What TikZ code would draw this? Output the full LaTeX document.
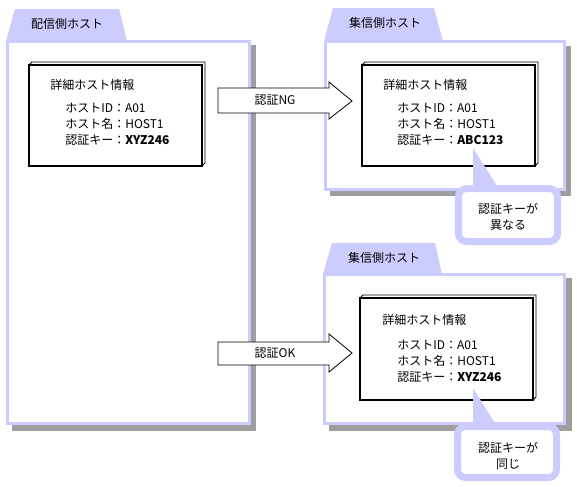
\documentclass[tikz,border=0pt]{standalone}
\usepackage{fontspec}
\setmainfont{Noto Sans CJK JP}
\usepackage{tikz}

\definecolor{hostlav}{RGB}{204,204,255}
\definecolor{shadowgray}{RGB}{158,158,158}

\tikzset{
  hostshadow/.style={fill=shadowgray},
  hosttab/.style={fill=hostlav},
  hostframe/.style={draw=hostlav, line width=2.25pt, fill=white},
  infoside/.style={draw=black, line width=0.6pt, fill=white},
  infoface/.style={draw=black, line width=1.5pt, fill=white},
  blockarrow/.style={draw=black, line width=0.6pt, fill=white},
  notebox/.style={draw=hostlav, line width=5.25pt, fill=white, rounded corners=6pt},
  notetip/.style={fill=hostlav},
  txt/.style={font=\fontsize{9}{12}\selectfont, inner sep=0pt},
}

\begin{document}
\begin{tikzpicture}[x=0.75pt,y=0.75pt,yscale=-1,xscale=1]
    \useasboundingbox (0,0) rectangle (577,486);

    %Shape: Host shadows
    \fill [hostshadow] (12,45) rectangle (256,431);
    \fill [hostshadow] (330,46) rectangle (571,196);
    \fill [hostshadow] (329,278) rectangle (572,431);

    %Shape: Host tabs
    \fill [hosttab] (6,41) -- (15,9) -- (119,9) -- (127,41) -- cycle;
    \fill [hosttab] (324,41) -- (333,8) -- (434,8) -- (443,41) -- cycle;
    \fill [hosttab] (323,274) -- (332,243) -- (435,243) -- (442,274) -- cycle;

    %Shape: Host frames
    \draw [hostframe] (7.5,41.5) rectangle (249.5,423.5);
    \draw [hostframe] (325.5,41.5) rectangle (564.5,189.5);
    \draw [hostframe] (324.5,274.5) rectangle (564.5,423.5);

    % Text Node
    \node [txt] (srchost) at (67,24) {配信側ホスト};
    % Text Node
    \node [txt] (nghost) at (385,23) {集信側ホスト};
    % Text Node
    \node [txt] (okhost) at (384,258) {集信側ホスト};

    %Shape: Info box (sender)
    \draw [infoside] (29,65) -- (32,62) -- (205,62) -- (205,163) -- (202,166) -- cycle;
    \draw [infoface] (29,65) rectangle (202,166);
    % Text Node
    \node [txt, anchor=west] (srctitle) at (50,85) {詳細ホスト情報};
    % Text Node
    \node [txt, anchor=west, align=left] (srcdata) at (65,124)
      {ホストID：A01\\ホスト名：HOST1\\認証キー：\textbf{XYZ246}};

    %Shape: Info box (receiver, NG)
    \draw [infoside] (362,65) -- (365,62) -- (538,62) -- (538,163) -- (535,166) -- cycle;
    \draw [infoface] (362,65) rectangle (535,166);
    % Text Node
    \node [txt, anchor=west] (ngtitle) at (383,85) {詳細ホスト情報};
    % Text Node
    \node [txt, anchor=west, align=left] (ngdata) at (397,124)
      {ホストID：A01\\ホスト名：HOST1\\認証キー：\textbf{ABC123}};

    %Shape: Info box (receiver, OK)
    \draw [infoside] (360,298) -- (363,295) -- (536,295) -- (536,397) -- (533,400) -- cycle;
    \draw [infoface] (360,298) rectangle (533,400);
    % Text Node
    \node [txt, anchor=west] (oktitle) at (382,320) {詳細ホスト情報};
    % Text Node
    \node [txt, anchor=west, align=left] (okdata) at (397,361)
      {ホストID：A01\\ホスト名：HOST1\\認証キー：\textbf{XYZ246}};

    %Shape: Block arrows
    \draw [blockarrow] (218,88) -- (329,88) -- (329,82) -- (352,101) -- (329,119) -- (329,113) -- (218,113) -- cycle;
    \node [txt] (nglabel) at (275,100) {認証NG};
    \draw [blockarrow] (218,342) -- (329,342) -- (329,334) -- (352,353) -- (329,372) -- (329,365) -- (218,365) -- cycle;
    \node [txt] (oklabel) at (275,353) {認証OK};

    %Shape: Callouts
    \fill [notetip] (473,148) -- (473,192) -- (501,192) -- cycle;
    \draw [notebox] (458.5,188.5) rectangle (557.5,241.5);
    \node [txt, align=center] (ngnote) at (508,217) {認証キーが\\異なる};
    \fill [notetip] (473,388) -- (473,430) -- (499,430) -- cycle;
    \draw [notebox] (457.5,426.5) rectangle (556.5,477.5);
    \node [txt, align=center] (oknote) at (508,456) {認証キーが\\同じ};

\end{tikzpicture}
\end{document}
